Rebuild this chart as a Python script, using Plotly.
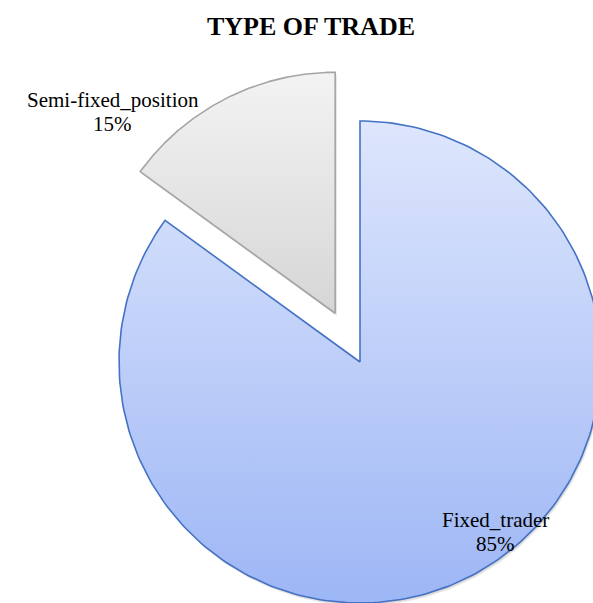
import numpy as np
import plotly.graph_objects as go

# ---- data ----
categories = ["Fixed_trader", "Semi-fixed_position"]
shares = [85, 15]

# ---- styling ----
TITLE = "TYPE OF TRADE"
FONT = "Liberation Serif, Times New Roman, serif"
PULL = {"Fixed_trader": 0.0, "Semi-fixed_position": 0.227}
FILL_TOP = {"Fixed_trader": "#dde6fc", "Semi-fixed_position": "#f3f3f3"}
FILL_BOTTOM = {"Fixed_trader": "#9db6f5", "Semi-fixed_position": "#d6d6d6"}
EDGE = {"Fixed_trader": "#4472c4", "Semi-fixed_position": "#a5a5a5"}
# label anchor points (pie radius = 1, centre at origin)
LABEL_XY = {"Fixed_trader": (0.564, -0.656), "Semi-fixed_position": (-1.025, 1.087)}
LINE_GAP = 0.099

W, H = 593, 603
PX = 241.0          # pixels per unit radius
CX, CY = 360.0, 362.0  # pie centre in pixels


def wedge(start, stop, pull, n=240):
    """Closed outline of a pie wedge; angles are clockwise from 12 o'clock."""
    t = np.linspace(start, stop, n)
    mid = 0.5 * (start + stop)
    ox, oy = pull * np.sin(mid), pull * np.cos(mid)
    xs = np.concatenate([[0.0], np.sin(t), [0.0]]) + ox
    ys = np.concatenate([[0.0], np.cos(t), [0.0]]) + oy
    return xs, ys


total = float(sum(shares))
fig = go.Figure()

wedges = []
cum = 0.0
for name, val in zip(categories, shares):
    a0 = 2 * np.pi * cum / total
    a1 = 2 * np.pi * (cum + val) / total
    cum += val
    wedges.append((name, val, wedge(a0, a1, PULL[name])))

# soft outer shadow under every slice
for name, val, (xs, ys) in wedges:
    for k in (3, 2, 1):
        d = k / PX
        fig.add_trace(go.Scatter(
            x=xs + d * 0.6, y=ys - d, mode="lines", fill="toself",
            fillcolor="rgba(0,0,0,0.07)", line=dict(width=0),
            hoverinfo="skip", showlegend=False))

# slices with vertical gradient fill
for name, val, (xs, ys) in wedges:
    fig.add_trace(go.Scatter(
        x=xs, y=ys, mode="lines", fill="toself", name=name,
        line=dict(color=EDGE[name], width=1.6),
        fillgradient=dict(type="vertical",
                          colorscale=[[0, FILL_BOTTOM[name]], [1, FILL_TOP[name]]]),
        hovertemplate=f"{name}: {val}%<extra></extra>", showlegend=False))

# category / percentage labels
for name, val in zip(categories, shares):
    lx, ly = LABEL_XY[name]
    pct = f"{round(100 * val / total)}%"
    for i, txt in enumerate([name, pct]):
        fig.add_annotation(x=lx, y=ly - i * LINE_GAP, xref="x", yref="y",
                           text=txt, showarrow=False, xanchor="center",
                           yanchor="middle",
                           font=dict(family=FONT, size=21, color="black"))

fig.update_layout(
    width=W, height=H,
    margin=dict(l=0, r=0, t=0, b=0),
    paper_bgcolor="white", plot_bgcolor="white",
    title=dict(text=f"<b>{TITLE}</b>", x=311 / W, xanchor="center",
               y=1 - 26 / H, yanchor="middle", yref="container",
               font=dict(family=FONT, size=26, color="black")),
    xaxis=dict(range=[-CX / PX, (W - CX) / PX], visible=False, fixedrange=True),
    yaxis=dict(range=[-(H - CY) / PX, CY / PX], visible=False, fixedrange=True),
    showlegend=False,
)

fig.write_html("out.html")
